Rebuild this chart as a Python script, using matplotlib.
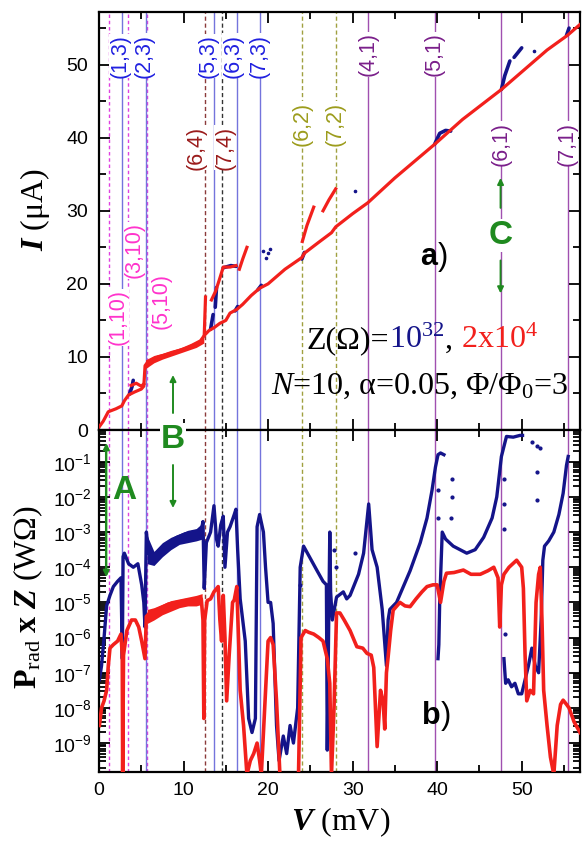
import numpy as np
import matplotlib
matplotlib.use("Agg")
import matplotlib.pyplot as plt
from matplotlib import transforms
from matplotlib.ticker import MultipleLocator, LogLocator, NullFormatter

plt.rcParams["font.family"] = ["Liberation Sans", "DejaVu Sans"]
plt.rcParams["mathtext.fontset"] = "custom"
plt.rcParams["mathtext.rm"] = "Liberation Serif"
plt.rcParams["mathtext.it"] = "Liberation Serif:italic"
plt.rcParams["mathtext.bf"] = "Liberation Serif:bold"
plt.rcParams["mathtext.bfit"] = "Liberation Serif:bold:italic"

NAVY = "#14148a"
RED = "#f2201c"
GREEN = "#1f8a1f"
SERIF = ["Liberation Serif", "DejaVu Serif"]

# ---- resonance lines (mode labels) ----
mode_names = ["(1,10)", "(3,10)", "(5,10)", "(1,3)", "(2,3)", "(5,3)", "(6,3)", "(7,3)",
              "(6,4)", "(7,4)", "(6,2)", "(7,2)", "(4,1)", "(5,1)", "(6,1)", "(7,1)"]
mode_v = [1.15, 3.4, 5.7, 2.7, 5.55, 13.6, 16.3, 19.05,
          12.55, 14.6, 24.05, 28.05, 31.8, 39.7, 47.6, 55.45]
label_v = [2.25, 4.2, 7.4, 2.45, 5.35, 12.9, 15.85, 19.0,
           11.5, 14.9, 24.05, 27.9, 31.8, 39.6, 47.6, 55.4]
label_i = [15.4, 24.6, 17.7, 51.2, 51.2, 51.2, 51.2, 51.2,
           38.6, 38.6, 41.9, 41.9, 51.4, 51.4, 39.2, 39.2]
mode_kind = ["m", "m", "m", "b", "b", "b", "b", "b",
             "r", "k", "o", "o", "p", "p", "p", "p"]
STYLE = {
    "m": ("#e040e0", (0, (2.5, 2)), "#ff33cc"),
    "b": ("#7474dc", "-", "#2020e0"),
    "r": ("#8b3a3a", (0, (3, 2)), "#9b1c1c"),
    "k": ("#333333", (0, (3, 2)), "#9b1c1c"),
    "o": ("#a0a040", (0, (3, 2)), "#9c9c1c"),
    "p": ("#a050b0", "-", "#7a1f8a"),
}

# ---- panel a: I-V curves ----
main_v = [0, 0.5, 1.1, 2.0, 2.7, 3.0, 3.5, 4.2, 5.0, 5.3, 5.45, 5.7, 7.0, 8.5, 10.0, 11.0,
          12.0, 12.5, 13.0, 13.6, 14.3, 15.0, 15.5, 16.3, 17.0, 18.0, 19.0, 20.0, 22.0, 24.0,
          24.3, 26.0, 27.5, 28.0, 30.0, 31.8, 35.0, 39.7, 43.0, 47.6, 50.0, 53.0, 55.4, 57.0]
main_i = [0.4, 1.2, 2.5, 2.9, 3.3, 4.0, 4.8, 5.2, 5.6, 6.0, 8.8, 9.2, 10.0, 10.5, 11.1, 11.6,
          12.2, 13.0, 13.6, 14.0, 14.6, 15.0, 16.0, 16.5, 17.2, 18.4, 19.4, 20.0, 22.0, 23.6,
          24.2, 25.7, 27.0, 27.8, 29.6, 31.1, 34.5, 39.1, 42.5, 46.6, 49.0, 52.0, 54.0, 55.6]
band_a_v = [5.5, 6.5, 7.5, 8.5, 9.5, 10.5, 11.5, 12.4]
band_a_lo = [8.4, 9.2, 9.7, 10.1, 10.5, 10.9, 11.3, 11.9]
band_a_hi = [9.6, 10.2, 10.5, 10.9, 11.2, 11.6, 12.1, 12.8]

blue_a_segs = [
    ([3.6, 3.9, 4.05], [4.9, 5.9, 6.8]),
    ([13.2, 13.5], [13.8, 15.8]),
    ([13.75, 13.9], [16.8, 19.5]),
    ([14.7, 15.6, 16.2], [22.2, 22.5, 22.4]),
    ([16.1, 16.4], [16.3, 16.9]),
    ([18.8, 19.2], [19.2, 19.8]),
    ([24.0, 24.3], [23.4, 24.3]),
    ([39.7, 40.3, 41.0, 41.6], [39.1, 40.6, 41.0, 40.9]),
    ([47.6, 48.0, 48.6], [46.6, 48.5, 50.5]),
    ([49.1, 50.0], [51.0, 52.3]),
    ([55.3, 55.6], [54.0, 55.0]),
]
red_a_segs = [
    ([3.8, 4.4, 5.0, 5.3], [6.1, 6.4, 6.0, 6.3]),
    ([12.45, 12.6], [13.0, 18.2]),
    ([13.3, 13.8, 14.3, 14.7, 15.5, 16.2], [17.8, 19.0, 20.8, 22.3, 22.3, 22.5]),
    ([16.6, 17.0, 17.5], [22.0, 23.4, 25.0]),
    ([24.05, 24.6, 25.4], [25.8, 28.0, 30.5]),
    ([26.5, 27.2, 28.0], [30.0, 31.5, 33.0]),
]
dots_a_v = [19.4, 19.7, 20.0, 20.2, 30.3, 51.4]
dots_a_i = [24.5, 23.6, 24.2, 24.8, 32.7, 51.8]

# ---- panel b: log10 of P_rad x Z ----
blue_b_v1 = [0.05, 0.3, 0.6, 0.9, 1.3, 1.7, 2.2, 2.6, 2.76, 2.85, 3.0, 3.5, 4.06, 4.6, 5.05,
             5.3, 5.44, 5.6, 5.9, 6.2, 7.2, 8.2, 9.2, 10.2, 11.2, 12.1, 12.3, 12.45, 12.7, 13.2,
             13.6, 13.9, 14.1, 14.4, 14.7, 14.9, 15.2, 15.5, 16.0, 16.2, 16.4, 16.7, 17.3, 17.7,
             18.1, 18.5, 18.7, 19.0, 19.45, 19.7, 20.0, 20.3, 20.6, 21.0, 21.3, 21.8, 22.2, 22.6,
             23.0, 23.5, 23.8, 24.2, 25.0, 25.8, 26.5, 26.9, 27.0, 27.2, 27.3, 27.4, 27.6, 28.1,
             28.9, 29.3, 29.7, 30.7, 31.3, 31.9, 32.3, 32.9, 33.5, 34.0, 34.2, 34.4, 35.2, 36.8,
             38.0, 38.8, 39.4, 39.8, 40.1, 40.4, 40.8]
blue_b_lp1 = [-7.2, -6.8, -6.0, -5.1, -4.8, -4.55, -4.4, -4.3, -6.6, -3.7, -3.6, -3.9, -4.0, -3.9, -4.5,
              -5.0, -5.7, -3.0, -3.6, -3.75, -3.5, -3.3, -3.15, -3.05, -3.0, -2.95, -2.7, -4.6, -3.3, -3.0,
              -2.25, -3.2, -3.4, -2.8, -2.55, -4.0, -3.0, -2.85, -2.5, -2.35, -3.5, -4.9, -6.1, -8.3,
              -8.7, -8.3, -2.85, -2.5, -3.0, -4.0, -5.0, -5.0, -5.6, -8.5, -9.5, -8.8, -9.3, -8.5,
              -9.0, -8.0, -4.0, -3.4, -3.75, -4.1, -4.4, -4.5, -9.2, -5.0, -3.0, -4.7, -5.5, -4.85,
              -4.7, -4.9, -4.8, -4.2, -3.6, -2.2, -3.5, -4.0, -5.2, -6.8, -5.5, -5.2, -5.0, -4.1,
              -3.3, -2.6, -1.8, -1.15, -0.8, -0.75, -0.8]
blue_b_v2 = [40.1, 40.2, 40.3, 40.6, 41.0, 41.9, 43.5, 44.5, 45.5, 46.5, 47.05, 47.6, 48.2, 49.0, 49.8, 50.1]
blue_b_lp2 = [-6.6, -6.2, -5.0, -3.0, -3.2, -3.4, -3.6, -3.5, -3.15, -2.6, -2.0, -0.85, -0.28, -0.3, -0.25, -0.25]
blue_b_v3 = [47.9, 48.1, 48.4, 48.8, 49.2, 49.6, 50.0, 50.4, 50.8, 51.2, 51.6, 52.0, 52.3, 52.5,
             52.7, 53.2, 53.8, 54.4, 54.9, 55.3, 55.5]
blue_b_lp3 = [-6.6, -7.3, -7.2, -7.4, -7.3, -7.6, -7.6, -7.2, -6.8, -6.3, -6.8, -7.0, -5.5, -3.8,
              -3.4, -3.25, -3.0, -2.5, -1.9, -1.1, -0.85]
blue_dots_v = [47.9, 47.9, 47.9, 48.0, 51.2, 51.8, 52.2, 51.8, 51.8, 40.1, 40.1, 41.8, 41.8, 41.6, 27.8, 28.0, 23.8, 30.3]
blue_dots_lp = [-1.5, -2.2, -2.9, -5.9, -0.45, -0.54, -0.6, -1.3, -2.1, -1.8, -2.6, -1.5, -2.0, -2.6, -3.5, -4.0, -4.5, -3.6]

red_b_v1 = [0.05, 0.3, 0.6, 0.9, 1.1, 1.3, 1.7, 2.2, 2.6, 2.75, 2.8, 2.9, 3.3, 3.85, 4.3, 4.7, 5.05,
            5.44, 5.6, 6.0, 7.2, 8.2, 9.2, 10.2, 11.2, 12.1, 12.3, 12.4, 12.5, 12.8, 13.2, 13.6, 14.1,
            14.3, 14.5, 14.7, 14.9, 15.1, 15.4, 15.8, 16.0, 16.3, 16.5, 16.7, 17.1, 17.5, 17.9, 18.3,
            18.7, 19.0, 19.2, 19.6, 20.0, 20.3, 20.6, 21.0, 21.4]
red_b_lp1 = [-8.5, -8.0, -7.8, -7.5, -6.8, -6.3, -6.2, -6.1, -5.9, -6.5, -9.9, -6.5, -5.8, -5.5, -5.5, -5.7,
             -6.1, -6.6, -5.4, -5.3, -5.17, -5.05, -5.0, -4.95, -4.93, -4.9, -5.5, -8.3, -5.5, -4.95, -4.9,
             -4.7, -4.55, -5.5, -6.1, -4.8, -6.0, -7.8, -6.5, -5.0, -4.93, -4.55, -6.0, -7.5, -8.5, -9.9,
             -9.5, -9.3, -9.0, -9.5, -9.9, -8.0, -6.1, -6.0, -6.2, -7.8, -9.9]
red_b_v2 = [23.6, 23.9, 24.4, 24.8, 25.4, 26.0, 26.5, 27.0, 27.3, 27.5, 27.8, 28.1, 28.5, 29.0, 29.7,
            30.5, 31.2, 31.7, 32.2, 32.5, 32.9, 33.3, 33.6, 33.8, 34.0, 34.2, 34.5, 34.8, 35.6, 36.2,
            36.8, 37.5, 38.2, 38.8, 39.5, 40.0, 40.4, 40.8, 41.1, 42.0, 43.1, 44.0, 45.1, 46.0, 46.7,
            47.2, 47.4, 47.6, 47.9, 48.5, 49.4, 50.0, 50.2, 50.4, 50.6, 51.0, 51.4, 51.7, 52.0, 52.2,
            52.4, 52.6, 53.0, 53.4, 53.8, 54.2, 54.6, 54.9, 55.3, 55.6, 56.2, 56.9]
red_b_lp2 = [-9.9, -6.0, -5.8, -5.85, -5.9, -6.0, -6.1, -6.6, -7.3, -9.9, -8.0, -5.3, -5.3, -5.5, -5.8,
             -6.26, -6.3, -6.45, -6.5, -6.85, -9.1, -7.5, -7.8, -8.6, -7.0, -6.55, -5.8, -5.22, -5.0, -5.1,
             -5.12, -4.9, -4.7, -4.55, -4.5, -4.5, -5.0, -4.4, -4.17, -4.15, -4.08, -4.2, -4.2, -4.1, -4.0,
             -4.3, -5.7, -4.5, -4.2, -4.0, -3.8, -4.0, -4.6, -6.5, -7.8, -7.5, -7.6, -5.0, -4.2, -4.0,
             -5.5, -7.5, -8.5, -9.4, -9.9, -8.5, -7.9, -7.78, -7.9, -8.0, -8.4, -8.7]
band_b_v = [5.7, 6.5, 7.5, 8.5, 9.5, 10.5, 11.5, 12.2]
blue_band_lo = [-3.9, -3.95, -3.7, -3.5, -3.35, -3.3, -3.25, -3.2]
blue_band_hi = [-3.1, -3.55, -3.3, -3.15, -3.05, -2.95, -2.9, -2.75]
red_band_lo = [-5.6, -5.5, -5.35, -5.25, -5.15, -5.1, -5.1, -5.05]
red_band_hi = [-5.2, -5.15, -5.05, -4.95, -4.9, -4.85, -4.8, -4.75]


def p(lp):
    return 10.0 ** np.array(lp)


fig = plt.figure(figsize=(5.83, 8.42), dpi=100)
ax_a = fig.add_axes([0.1698, 0.4893, 0.8251, 0.4964])
ax_b = fig.add_axes([0.1698, 0.0831, 0.8251, 0.4062])

for ax in (ax_a, ax_b):
    for v, k in zip(mode_v, mode_kind):
        col, ls, _ = STYLE[k]
        ax.axvline(v, color=col, ls=ls, lw=1.0, zorder=1)

# panel a
for v, i in blue_a_segs:
    ax_a.plot(v, i, color=NAVY, lw=2.6, zorder=2, solid_capstyle="round")
ax_a.fill_between(band_a_v, band_a_lo, band_a_hi, color=RED, lw=0, zorder=3)
ax_a.plot(main_v, main_i, color=RED, lw=2.3, zorder=3)
for v, i in red_a_segs:
    ax_a.plot(v, i, color=RED, lw=2.3, zorder=3)
ax_a.plot(dots_a_v, dots_a_i, ls="none", marker="o", ms=1.6, color=NAVY, zorder=3)

for name, lv, li, k in zip(mode_names, label_v, label_i, mode_kind):
    ax_a.text(lv, li, name, rotation=90, ha="center", va="center", fontsize=15.5,
              color=STYLE[k][2], zorder=4,
              bbox=dict(facecolor="white", edgecolor="none", pad=0.3))

ax_a.set_xlim(0, 56.9)
ax_a.set_ylim(0, 57.2)
ax_a.xaxis.set_major_locator(MultipleLocator(10))
ax_a.xaxis.set_minor_locator(MultipleLocator(5))
ax_a.yaxis.set_major_locator(MultipleLocator(10))
ax_a.yaxis.set_minor_locator(MultipleLocator(5))
ax_a.tick_params(which="both", direction="in", top=True, right=True, labelbottom=False,
                 labelsize=14, width=1.3)
ax_a.tick_params(which="major", length=8, pad=8)
ax_a.tick_params(which="minor", length=5)

# panel b
ax_b.fill_between(band_b_v, p(blue_band_lo), p(blue_band_hi), color=NAVY, lw=0, zorder=2)
ax_b.plot(blue_b_v1, p(blue_b_lp1), color=NAVY, lw=2.4, zorder=2)
ax_b.plot(blue_b_v2, p(blue_b_lp2), color=NAVY, lw=2.4, zorder=2)
ax_b.plot(blue_b_v3, p(blue_b_lp3), color=NAVY, lw=2.4, zorder=2)
ax_b.plot(blue_dots_v, p(blue_dots_lp), ls="none", marker="o", ms=2.0, color=NAVY, zorder=2)
ax_b.fill_between(band_b_v, p(red_band_lo), p(red_band_hi), color=RED, lw=0, zorder=3)
ax_b.plot(red_b_v1, p(red_b_lp1), color=RED, lw=2.6, zorder=3)
ax_b.plot(red_b_v2, p(red_b_lp2), color=RED, lw=2.6, zorder=3)

ax_b.set_yscale("log")
ax_b.set_xlim(0, 56.9)
ax_b.set_ylim(1.5e-10, 0.8)
ax_b.xaxis.set_major_locator(MultipleLocator(10))
ax_b.xaxis.set_minor_locator(MultipleLocator(5))
ax_b.yaxis.set_major_locator(LogLocator(base=10, numticks=30))
ax_b.yaxis.set_minor_locator(LogLocator(base=10, subs=np.arange(2, 10), numticks=300))
ax_b.yaxis.set_minor_formatter(NullFormatter())
ax_b.tick_params(which="both", direction="in", top=True, right=True, labelsize=14, width=1.3)
ax_b.tick_params(which="major", length=8)
ax_b.tick_params(axis="y", which="major", pad=5)
ax_b.tick_params(axis="x", which="major", pad=7)
ax_b.tick_params(which="minor", length=5)

for ax in (ax_a, ax_b):
    for sp in ax.spines.values():
        sp.set_linewidth(1.6)

renderer = fig.canvas.get_renderer()


def chain(ax, x, y, parts, size, family):
    tr = ax.transAxes
    for s, c, w in parts:
        t = ax.text(x, y, s, color=c, fontsize=size, family=family, weight=w,
                    transform=tr, ha="left", va="baseline", zorder=5)
        ex = t.get_window_extent(renderer)
        tr = transforms.offset_copy(t.get_transform(), x=ex.width, units="dots")


chain(ax_a, 0.432, 0.196, [("Z(Ω)=", "black", "normal"),
                           (r"$\mathrm{10^{32}}$", NAVY, "normal"),
                           (", ", "black", "normal"),
                           (r"$\mathrm{2x10^{4}}$", RED, "normal")], 23, SERIF)
ax_a.text(0.975, 0.086, r"$N$=10, α=0.05, Φ/Φ$_\mathrm{0}$=3", transform=ax_a.transAxes,
          ha="right", va="baseline", fontsize=23, family=SERIF, zorder=5)

chain(ax_a, 0.668, 0.395, [("a", "black", "bold"), (")", "black", "normal")], 22,
      ["Liberation Sans"])
chain(ax_b, 0.672, 0.14, [("b", "black", "bold"), (")", "black", "normal")], 22,
      ["Liberation Sans"])

# C marker in panel a
ax_a.text(47.45, 26.6, "C", color=GREEN, fontsize=24, weight="bold", ha="center",
          va="center", zorder=5, bbox=dict(facecolor="white", edgecolor="none", pad=0.5))
arr = dict(arrowstyle="-|>", color=GREEN, lw=1.4, mutation_scale=9, shrinkA=0, shrinkB=0)
ax_a.annotate("", xy=(47.5, 34.5), xytext=(47.5, 30.4), arrowprops=arr, zorder=5)
ax_a.annotate("", xy=(47.5, 18.7), xytext=(47.5, 23.2), arrowprops=arr, zorder=5)


def fpt(x, y):
    return (x / 583.0, 1.0 - y / 842.0)


# B and A markers (figure pixels of the reference)
fig.text(*fpt(173, 440), "B", color=GREEN, fontsize=24, weight="bold", ha="center",
         va="center", zorder=5, bbox=dict(facecolor="white", edgecolor="none", pad=1.0))
ax_a.annotate("", xy=fpt(173, 375), xytext=fpt(173, 413), xycoords="figure fraction",
              textcoords="figure fraction", arrowprops=arr, annotation_clip=False)
ax_b.annotate("", xy=fpt(173, 508), xytext=fpt(173, 465), xycoords="figure fraction",
              textcoords="figure fraction", arrowprops=arr, annotation_clip=False, zorder=5)
fig.text(*fpt(124, 490), "A", color=GREEN, fontsize=24, weight="bold", ha="center",
         va="center", zorder=5)
arr2 = dict(arrowstyle="<|-|>", color=GREEN, lw=1.5, mutation_scale=9, shrinkA=0, shrinkB=0)
fig.add_artist(plt.Line2D([106.3 / 583.0] * 2, [1 - 452 / 842.0, 1 - 568 / 842.0],
                          color=GREEN, lw=1.5, zorder=6))
ax_b.annotate("", xy=fpt(106.3, 443), xytext=fpt(106.3, 577), xycoords="figure fraction",
              textcoords="figure fraction", arrowprops=arr2, annotation_clip=False, zorder=6)

# axis labels
fig.text(*fpt(35, 210), r"$\mathbfit{I}$ (μA)", rotation=90, ha="center", va="center",
         fontsize=23, family=SERIF)
fig.text(*fpt(28, 597), r"$\mathbf{P}_{\mathrm{rad}}\ \mathbf{x}\ \mathbfit{Z}$ (WΩ)",
         rotation=90, ha="center", va="center", fontsize=23, family=SERIF)
fig.text(*fpt(341, 822), r"$\mathbfit{V}$ (mV)", ha="center", va="center",
         fontsize=23, family=SERIF)

fig.savefig("out.png", dpi=100)
